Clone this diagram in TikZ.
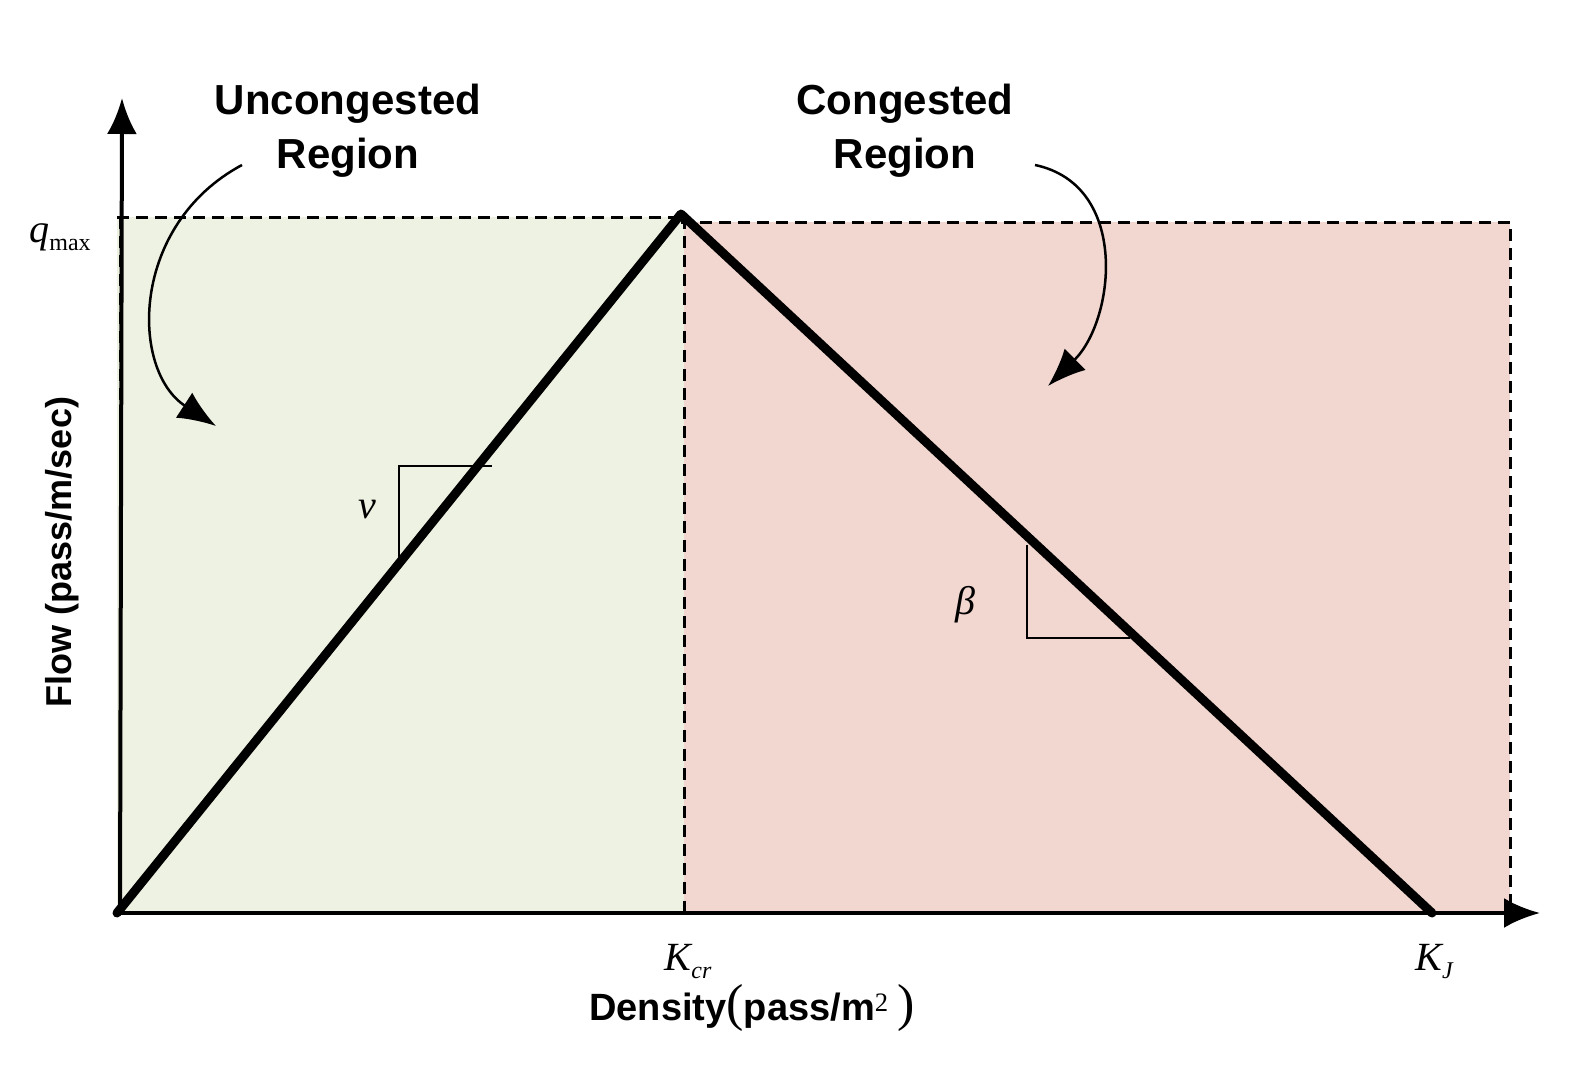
\documentclass[tikz,border=0pt]{standalone}
\usepackage{fontspec}
\usetikzlibrary{arrows.meta}
\setmainfont{Liberation Serif}
\newfontfamily\hsans{Liberation Sans}
\newcommand{\subtx}[1]{\raisebox{-8pt}{\fontsize{24}{24}\selectfont\itshape #1}}
\begin{document}
\begin{tikzpicture}[x=1pt,y=-1pt,
  ax/.style={line width=4pt,-{Latex[length=36pt,width=30pt]}},
  dashln/.style={line width=3pt,dash pattern=on 12pt off 7pt},
  curve/.style={line width=2.5pt,-{Latex[length=38pt,width=30pt]}},
  thick line/.style={line width=9pt},
  slope/.style={line width=2pt},
  title/.style={font=\hsans\bfseries\fontsize{42}{54}\selectfont,align=center},
  mathlbl/.style={font=\fontsize{40}{40}\selectfont\itshape}]
\useasboundingbox (0,0) rectangle (1579,1065);
\fill[fill={rgb,255:red,238;green,242;blue,226}] (117,217) rectangle (684,913);
\fill[fill={rgb,255:red,242;green,214;blue,208}] (684,222) rectangle (1510,913);
\coordinate (O) at (117,913);
\coordinate (P) at (681,214);
\coordinate (KJ) at (1432,913);
\coordinate (Ytop) at (122,98);
\coordinate (Xend) at (1540,913);
\draw[dashln] (117,217) -- (681,217) (681,222) -- (1510,222) -- (1510,913);
\draw[dashln] (684,217) -- (684,913);
\draw[dashln] (120,217) -- (120,913);
\draw[ax] (120,913) -- (Ytop);
\draw[ax] (117,913) -- (Xend);
\draw[thick line,line cap=round,line join=round] (O) -- (P) -- (KJ);
\draw[slope] (399,560) -- (399,466) -- (492,466);
\draw[slope] (1027,545) -- (1027,638) -- (1130,638);
\node[mathlbl] (v) at (367,510) {v};
\node[mathlbl] (b) at (965,605) {β};
\node[mathlbl] (kcr) at (688,962) {K\subtx{cr}};
\node[mathlbl] (kj) at (1434,962) {K\subtx{J}};
\node[mathlbl] (q) at (60,237) {q\subtx{\upshape max}};
\node[font=\hsans\bfseries\fontsize{38}{38}\selectfont] (dens) at (752,1008) {Density{\rmfamily\mdseries\fontsize{52}{52}\selectfont(}pass/m\textsuperscript{\rmfamily\mdseries 2}{\rmfamily\mdseries\fontsize{52}{52}\selectfont\,)}};
\node[font=\hsans\bfseries\fontsize{36}{36}\selectfont,rotate=90] (flow) at (62,552) {Flow (pass/m/sec)};
\node[title] (u) at (348,131) {Uncongested\\Region};
\node[title] (c) at (905,131) {Congested\\Region};
\coordinate (ua) at (242,165);
\coordinate (ub) at (216,426);
\coordinate (ca) at (1035,165);
\coordinate (cb) at (1048,386);
\draw[curve] (ua) .. controls (130,225) and (130,370) .. (ub);
\draw[curve] (ca) .. controls (1130,185) and (1115,320) .. (cb);
\end{tikzpicture}
\end{document}
